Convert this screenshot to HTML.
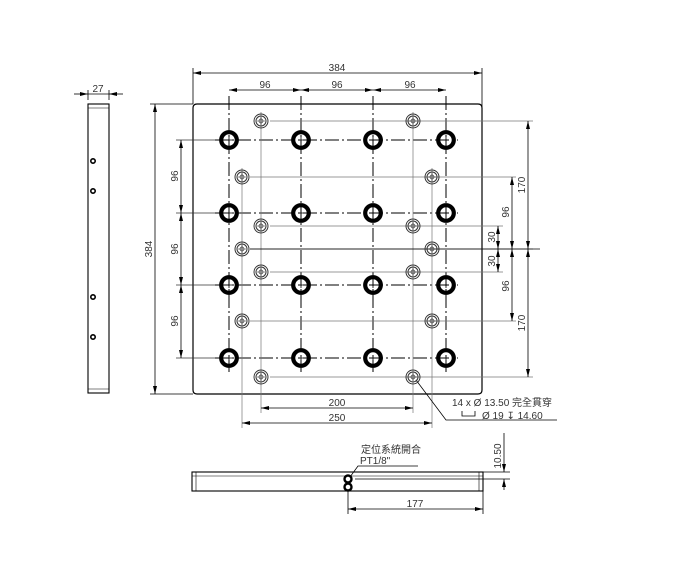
<!DOCTYPE html>
<html><head><meta charset="utf-8"><style>
html,body{margin:0;padding:0;background:#fff;}
svg{display:block;}
text{font-family:"Liberation Sans","Noto Sans CJK TC",sans-serif;font-size:10px;fill:#333;}
</style></head><body>
<svg width="691" height="577" viewBox="0 0 691 577" xmlns="http://www.w3.org/2000/svg">
<defs>
<marker id="a" markerWidth="8" markerHeight="6" refX="8" refY="3" orient="auto-start-reverse" markerUnits="userSpaceOnUse"><path d="M0,1 L8,3 L0,5 z" fill="#000"/></marker>
<g id="big"><circle r="7.8" fill="none" stroke="#000" stroke-width="4.2"/><path d="M-3,0H3M0,-3V3" stroke="#000" stroke-width="0.8"/></g>
<g id="sm"><circle r="7" fill="none" stroke="#333" stroke-width="1"/><circle r="5" fill="none" stroke="#333" stroke-width="1"/><circle r="2" fill="none" stroke="#333" stroke-width="0.7"/><path d="M-4,0H4M0,-4V4" stroke="#333" stroke-width="0.6"/></g>
</defs>
<g fill="none" stroke="#000" stroke-width="0.8">
<path d="M197,104 H478 Q482,104 482,108 V390 Q482,394 478,394 H197 Q193,394 193,390 V108 Q193,104 197,104 Z" stroke-width="1.2"/>
<path d="M193,104 V68 M482,130 V68"/>
<line x1="193" y1="73" x2="482" y2="73" marker-start="url(#a)" marker-end="url(#a)"/>
<line x1="229" y1="90" x2="301" y2="90" marker-start="url(#a)" marker-end="url(#a)"/>
<line x1="301" y1="90" x2="373" y2="90" marker-start="url(#a)" marker-end="url(#a)"/>
<line x1="373" y1="90" x2="446" y2="90" marker-start="url(#a)" marker-end="url(#a)"/>
<path d="M150,104 H193 M150,394 H193"/>
<line x1="155" y1="104" x2="155" y2="394" marker-start="url(#a)" marker-end="url(#a)"/>
<path d="M176,140 H220 M176,213 H220 M176,285 H220 M176,358 H220" stroke="#333"/>
<line x1="181" y1="140" x2="181" y2="213" marker-start="url(#a)" marker-end="url(#a)"/>
<line x1="181" y1="213" x2="181" y2="285" marker-start="url(#a)" marker-end="url(#a)"/>
<line x1="181" y1="285" x2="181" y2="358" marker-start="url(#a)" marker-end="url(#a)"/>
<g stroke-dasharray="14,3,2,3" stroke-width="1">
<path d="M215,140 H458 M215,213 H458 M215,285 H458 M215,358 H458"/>
<path d="M229,96 V372 M301,96 V372 M373,96 V372 M446,96 V372"/>
</g>
<g stroke="#777" stroke-width="0.7">
<path d="M270,121 H533 M250,177 H516 M270,226 H503 M250,249 H533 M270,272 H503 M250,321 H516 M270,377 H533"/>
<path d="M261,112 V413 M413,112 V413 M242,168 V428 M432,168 V428"/>
</g>
<line x1="528" y1="121" x2="528" y2="249" marker-start="url(#a)" marker-end="url(#a)"/>
<line x1="528" y1="249" x2="528" y2="377" marker-start="url(#a)" marker-end="url(#a)"/>
<line x1="512" y1="177" x2="512" y2="249" marker-start="url(#a)" marker-end="url(#a)"/>
<line x1="512" y1="249" x2="512" y2="321" marker-start="url(#a)" marker-end="url(#a)"/>
<line x1="498" y1="226" x2="498" y2="249" marker-start="url(#a)" marker-end="url(#a)"/>
<line x1="498" y1="249" x2="498" y2="272" marker-start="url(#a)" marker-end="url(#a)"/>
<path d="M250,249 H540" stroke="#000"/>
<line x1="261" y1="408" x2="413" y2="408" marker-start="url(#a)" marker-end="url(#a)"/>
<line x1="242" y1="423" x2="432" y2="423" marker-start="url(#a)" marker-end="url(#a)"/>
<path d="M416,380 L446,420 H557"/>
<path d="M462,411 V416 H475 V411" stroke-width="0.8"/>
<rect x="88" y="104" width="21" height="289" stroke-width="1.1"/>
<path d="M88,108 H109 M88,389 H109" stroke-width="0.6"/>
<path d="M88,100 V90 M109,100 V90"/>
<line x1="74" y1="94" x2="88" y2="94" marker-end="url(#a)"/>
<line x1="123" y1="94" x2="109" y2="94" marker-end="url(#a)"/>
<line x1="88" y1="94" x2="109" y2="94"/>
<rect x="192" y="472" width="291" height="19" stroke-width="1.1"/>
<path d="M196,472 V491 M479,472 V491" stroke-width="0.6"/>
<path d="M192,476 H483" stroke-width="0.5"/>
<path d="M355,479 H510 M483,472 H510"/>
<line x1="504" y1="433" x2="504" y2="472" marker-end="url(#a)"/>
<line x1="504" y1="490" x2="504" y2="479" marker-end="url(#a)"/>
<path d="M348,491 V514 M483,491 V514"/>
<line x1="348" y1="509" x2="483" y2="509" marker-start="url(#a)" marker-end="url(#a)"/>
<path d="M350,477 L358,466 H418"/>
</g>
<g>
<circle cx="348" cy="479" r="3.5" fill="none" stroke="#000" stroke-width="2.4"/>
<circle cx="348" cy="487" r="3.5" fill="none" stroke="#000" stroke-width="2.4"/>
<circle cx="93" cy="161" r="2.2" fill="none" stroke="#000" stroke-width="1.6"/>
<circle cx="93" cy="191" r="2.2" fill="none" stroke="#000" stroke-width="1.6"/>
<circle cx="93" cy="297" r="2.2" fill="none" stroke="#000" stroke-width="1.6"/>
<circle cx="93" cy="337" r="2.2" fill="none" stroke="#000" stroke-width="1.6"/>
</g>
<use href="#big" x="229" y="140"/><use href="#big" x="301" y="140"/><use href="#big" x="373" y="140"/><use href="#big" x="446" y="140"/>
<use href="#big" x="229" y="213"/><use href="#big" x="301" y="213"/><use href="#big" x="373" y="213"/><use href="#big" x="446" y="213"/>
<use href="#big" x="229" y="285"/><use href="#big" x="301" y="285"/><use href="#big" x="373" y="285"/><use href="#big" x="446" y="285"/>
<use href="#big" x="229" y="358"/><use href="#big" x="301" y="358"/><use href="#big" x="373" y="358"/><use href="#big" x="446" y="358"/>
<use href="#sm" x="261" y="121"/><use href="#sm" x="413" y="121"/>
<use href="#sm" x="242" y="177"/><use href="#sm" x="432" y="177"/>
<use href="#sm" x="261" y="226"/><use href="#sm" x="413" y="226"/>
<use href="#sm" x="242" y="249"/><use href="#sm" x="432" y="249"/>
<use href="#sm" x="261" y="272"/><use href="#sm" x="413" y="272"/>
<use href="#sm" x="242" y="321"/><use href="#sm" x="432" y="321"/>
<use href="#sm" x="261" y="377"/><use href="#sm" x="413" y="377"/>
<text x="337" y="71" text-anchor="middle">384</text>
<text x="265" y="88" text-anchor="middle">96</text>
<text x="337" y="88" text-anchor="middle">96</text>
<text x="410" y="88" text-anchor="middle">96</text>
<text x="98" y="92" text-anchor="middle">27</text>
<text transform="translate(152,249) rotate(-90)" text-anchor="middle">384</text>
<text transform="translate(178,176) rotate(-90)" text-anchor="middle">96</text>
<text transform="translate(178,249) rotate(-90)" text-anchor="middle">96</text>
<text transform="translate(178,321) rotate(-90)" text-anchor="middle">96</text>
<text transform="translate(525,185) rotate(-90)" text-anchor="middle">170</text>
<text transform="translate(525,323) rotate(-90)" text-anchor="middle">170</text>
<text transform="translate(509,212) rotate(-90)" text-anchor="middle">96</text>
<text transform="translate(509,286) rotate(-90)" text-anchor="middle">96</text>
<text transform="translate(495,237) rotate(-90)" text-anchor="middle">30</text>
<text transform="translate(495,261) rotate(-90)" text-anchor="middle">30</text>
<text x="337" y="406" text-anchor="middle">200</text>
<text x="337" y="421" text-anchor="middle">250</text>
<text x="452" y="406">14 x Ø 13.50 完全貫穿</text>
<text x="482" y="419">Ø 19 ↧ 14.60</text>
<text transform="translate(501,456) rotate(-90)" text-anchor="middle">10.50</text>
<text x="361" y="453">定位系統開合</text>
<text x="360" y="464">PT1/8"</text>
<text x="415" y="507" text-anchor="middle">177</text>
</svg>
</body></html>
